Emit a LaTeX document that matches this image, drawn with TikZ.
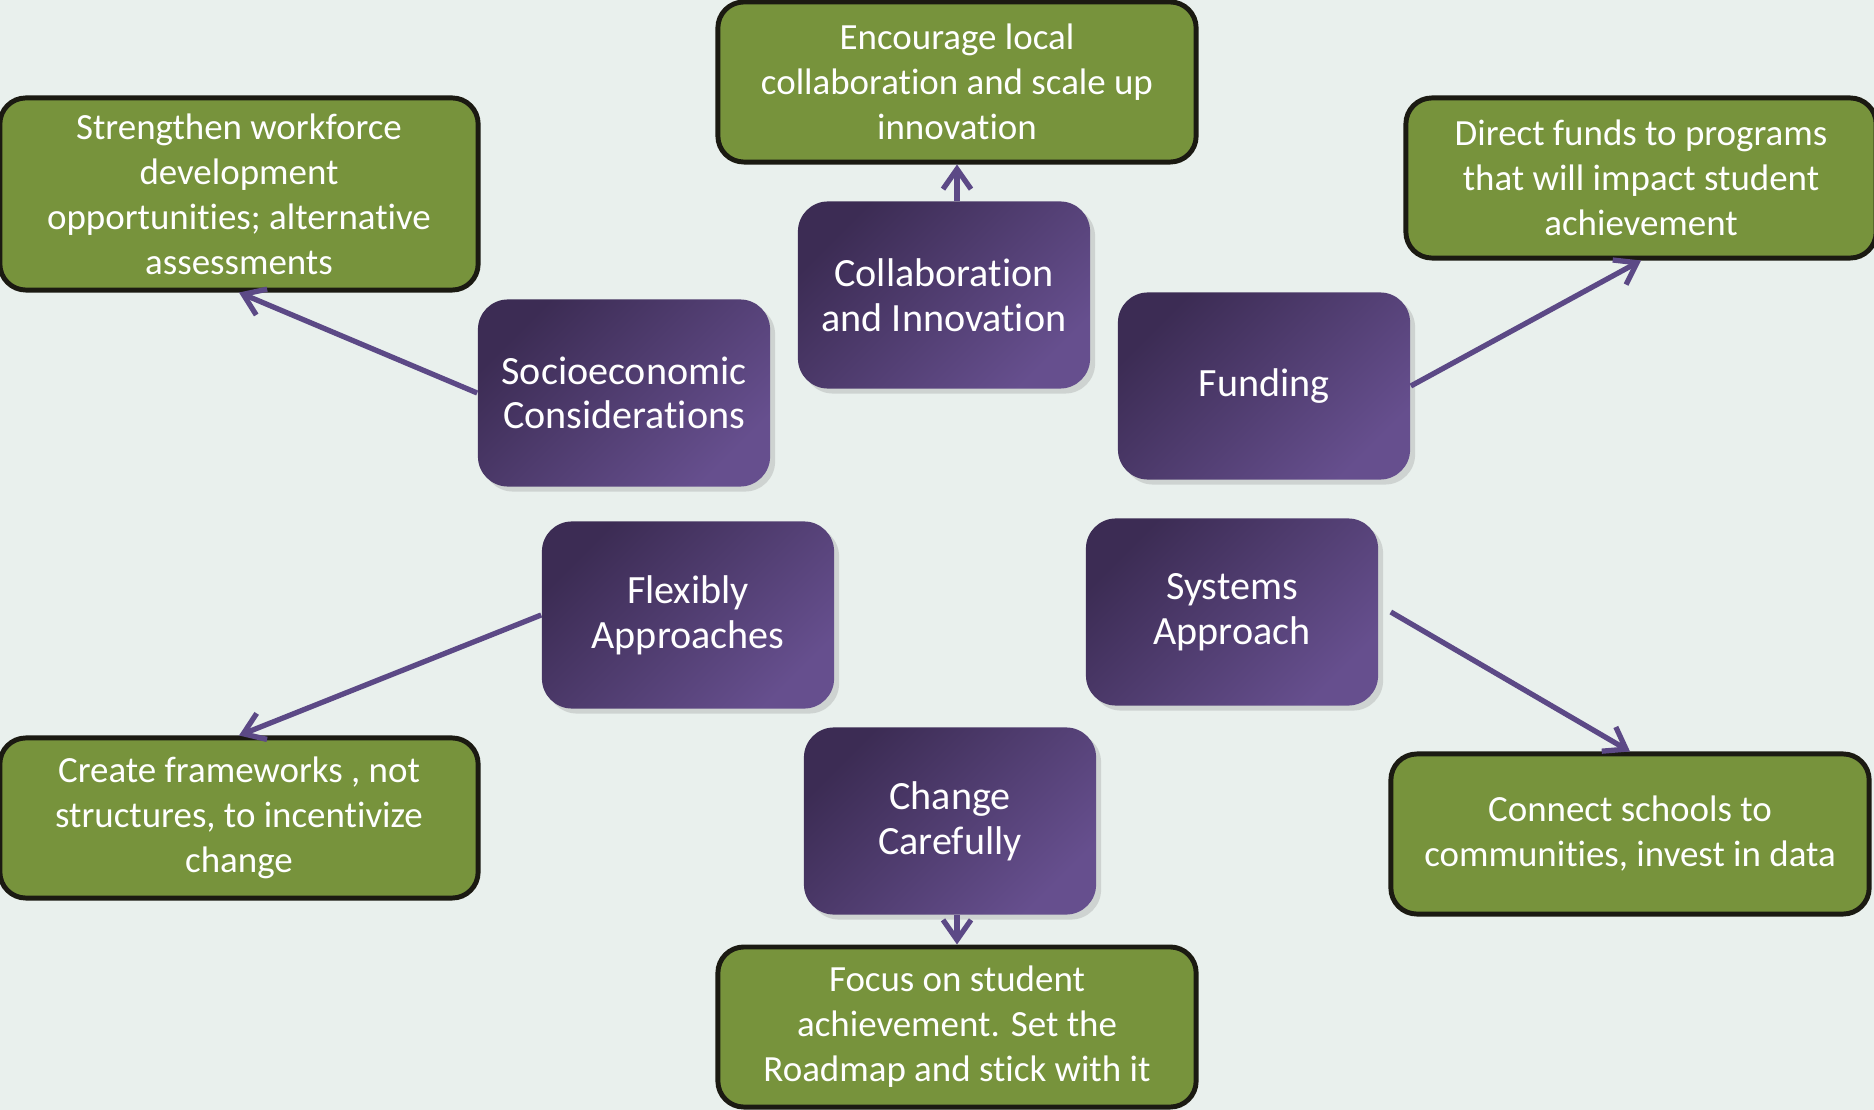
\documentclass[tikz,border=0pt]{standalone}
\usepackage{fontspec}
\setmainfont{Carlito}[Ligatures=NoCommon]
\usetikzlibrary{arrows.meta,shadows}
\definecolor{bgc}{HTML}{E9F0ED}
\definecolor{leaf}{HTML}{77933C}
\definecolor{rim}{HTML}{1B1A12}
\definecolor{plum}{HTML}{3C2C54}
\definecolor{lilac}{HTML}{664F8E}
\definecolor{arrc}{HTML}{5C4986}
\begin{document}
\begin{tikzpicture}[
            x=0.01cm,y=-0.01cm,
            every node/.style={align=center,text=white,inner sep=0pt,
              font=\fontsize{10.5}{12.8}\selectfont},
            goal/.style={draw=rim,line width=1.4pt,fill=leaf,rounded corners=0.26cm,
              minimum width=4.78cm,minimum height=1.6cm},
            theme/.style={rounded corners=0.3cm,left color=plum,right color=lilac,shading angle=45,
              minimum width=2.92cm,minimum height=1.87cm,font=\fontsize{11.4}{12.7}\selectfont,
              drop shadow={shadow xshift=0.05cm,shadow yshift=-0.05cm,opacity=0.25}},
            link/.style={draw=arrc,line width=1.5pt,-{Straight Barb[length=2mm,width=2.8mm]}}
            ]
            \useasboundingbox (0,0) rectangle (1874,1110);
            \fill[bgc] (0,0) rectangle (1874,1110);
            % outcomes
            \node[goal] (g1) at (957,82) {Encourage local\\collaboration and scale up\\innovation};
            \node[goal,minimum height=1.92cm] (g2) at (239,194) {Strengthen workforce\\development\\opportunities; alternative\\assessments};
            \node[goal,minimum width=4.7cm] (g3) at (1641,178) {Direct funds to programs\\that will impact student\\achievement};
            \node[goal] (g4) at (239,818) {Create frameworks , not\\structures, to incentivize\\change};
            \node[goal] (g5) at (1630,834) {Connect schools to\\communities, invest in data};
            \node[goal] (g6) at (957,1027) {Focus on student\\achievement. Set the\\Roadmap and stick with it};
            % themes
            \node[theme] (p1) at (944,295) {Collaboration\\and Innovation};
            \node[theme] (p2) at (624,393) {Socioeconomic\\Considerations};
            \node[theme] (p3) at (1264,386) {Funding};
            \node[theme] (p4) at (688,615) {Flexibly\\Approaches};
            \node[theme] (p5) at (1232,612) {Systems\\Approach};
            \node[theme] (p6) at (950,821) {Change\\Carefully};
            \draw[link] (g1.south |- p1.north) -- (g1.south);
            \draw[link] (p2.west) -- (g2.south);
            \draw[link] (p3.east) -- (g3.south);
            \draw[link] (p4.west) -- (g4.north);
            \draw[link] ([xshift=0.12cm]p5.east) -- (g5.north);
            \draw[link] (g6.north |- p6.south) -- (g6.north);
        \end{tikzpicture}
\end{document}
